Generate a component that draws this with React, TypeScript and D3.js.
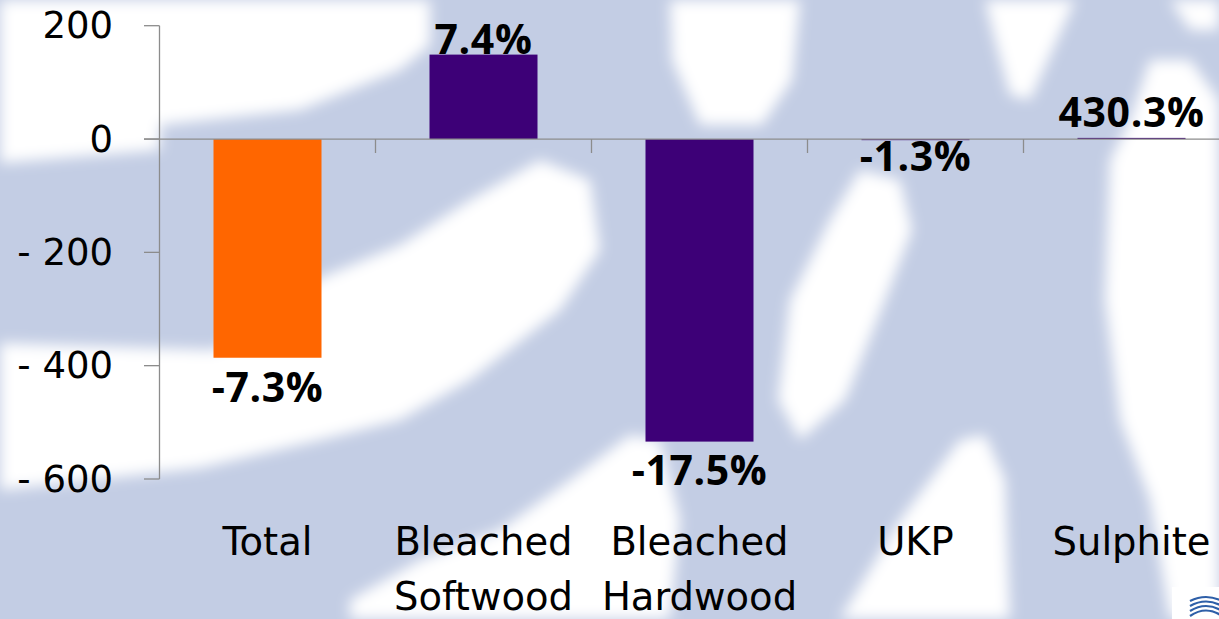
import React from "react";
import * as d3 from "d3";

const categoryKeys = ["Total", "Bleached Softwood", "Bleached Hardwood", "UKP", "Sulphite"];
const categoryLines = [["Total"], ["Bleached", "Softwood"], ["Bleached", "Hardwood"], ["UKP"], ["Sulphite"]];
const values = [-386, 149, -534, -2, 2];
const pctLabels = ["-7.3%", "7.4%", "-17.5%", "-1.3%", "430.3%"];
const barColors = ["#FF6600", "#3D0077", "#3D0077", "#3D0077", "#3D0077"];
const yTicks = [200, 0, -200, -400, -600];
// label baseline nudge relative to bar end (px), as placed in the source slide
const labelNudge = [44, -1, 43, 31, -11];

const W = 1219;
const H = 619;

// decorative background (blurred white shapes over light blue)
const bgWhite: [number, number][][] = [
  [[0, 0], [430, 0], [430, 45], [400, 70], [300, 110], [160, 125], [160, 150], [0, 163]],
  [[0, 343], [215, 350], [320, 278], [400, 245], [470, 200], [540, 160], [590, 180], [600, 250], [560, 310], [470, 380], [400, 420], [320, 440], [200, 468], [0, 490]],
  [[350, 600], [420, 560], [500, 530], [570, 480], [630, 435], [660, 440], [680, 520], [670, 619], [350, 619]],
  [[670, 0], [800, 0], [792, 80], [762, 125], [700, 125], [672, 60]],
  [[860, 170], [900, 180], [912, 230], [885, 300], [845, 400], [800, 440], [778, 400], [790, 300], [830, 220]],
  [[985, 0], [1075, 0], [1048, 60], [1030, 100], [1010, 95], [995, 40]],
  [[1150, 60], [1190, 60], [1219, 100], [1219, 619], [1170, 619], [1150, 500], [1120, 420], [1105, 300], [1110, 160], [1130, 120]],
  [[840, 619], [1010, 619], [1005, 480], [985, 435], [960, 440], [900, 520]],
  [[1170, 0], [1219, 0], [1219, 30], [1190, 30]],
];

export default function App() {
  const x = d3
    .scaleBand<string>()
    .domain(categoryKeys)
    .range([159.5, 1239.5])
    .paddingInner(0.5)
    .paddingOuter(0.25);
  const y = d3.scaleLinear().domain([-600, 200]).range([479, 25.7]);
  const y0 = y(0);
  const line = d3.line();
  const fmt = (v: number) => (v < 0 ? "- " + Math.abs(v) : String(v));
  const axisColor = "#8c8c8c";
  const step = x.step();
  const catTicks = categoryKeys.map((_, i) => 159.5 + step * (i + 1));

  return (
    <div style={{ position: "absolute", left: 0, top: 0, width: W, height: H, overflow: "hidden" }}>
      <svg width={W} height={H} style={{ display: "block" }}>
        <defs>
          <filter id="soft" x="-10%" y="-10%" width="120%" height="120%">
            <feGaussianBlur stdDeviation="7" />
          </filter>
        </defs>
        <rect x={0} y={0} width={W} height={H} fill="#C3CDE4" />
        <g filter="url(#soft)">
          {bgWhite.map((p, i) => (
            <path key={i} d={line(p) + "Z"} fill="#FFFFFF" />
          ))}
        </g>
        {/* logo */}
        <g transform="translate(1172,587)">
          <rect x={0} y={0} width={47} height={32} fill="#ffffff" />
          {[0, 1, 2, 3].map((k) => (
            <path
              key={k}
              d={`M ${18} ${14 + k * 5} Q ${34} ${6 + k * 4} ${50} ${14 + k * 5}`}
              fill="none"
              stroke="#2E5FA8"
              strokeWidth={2.2}
            />
          ))}
        </g>

        {/* y axis */}
        <line x1={159.5} x2={159.5} y1={y(200)} y2={y(-600)} stroke={axisColor} strokeWidth={1.3} />
        {yTicks.map((t) => (
          <g key={t}>
            <line x1={144} x2={159.5} y1={y(t)} y2={y(t)} stroke={axisColor} strokeWidth={1.3} />
            <text
              x={113}
              y={y(t)}
              textAnchor="end"
              dominantBaseline="central"
              fontFamily="DejaVu Sans, Verdana, sans-serif"
              fontSize={37}
              fill="#000"
            >
              {fmt(t)}
            </text>
          </g>
        ))}

        {/* bars */}
        {categoryKeys.map((c, i) => {
          const v = values[i];
          const x0 = x(c) as number;
          const top = y(Math.max(0, v));
          const bot = y(Math.min(0, v));
          return (
            <rect key={c} x={x0} y={top} width={x.bandwidth()} height={Math.max(1, bot - top)} fill={barColors[i]} />
          );
        })}

        {/* zero line and category ticks */}
        <line x1={144} x2={W} y1={y0} y2={y0} stroke={axisColor} strokeWidth={1.3} />
        {catTicks.map((cx, i) => (
          <line key={i} x1={cx} x2={cx} y1={y0} y2={y0 + 14} stroke={axisColor} strokeWidth={1.3} />
        ))}

        {/* data labels */}
        {categoryKeys.map((c, i) => {
          const v = values[i];
          const cx = (x(c) as number) + x.bandwidth() / 2;
          const ly = y(v) + labelNudge[i];
          return (
            <text
              key={c}
              x={cx}
              y={ly}
              textAnchor="middle"
              fontFamily="'Open Sans', 'Noto Sans', sans-serif"
              fontWeight="bold"
              fontSize={41}
              letterSpacing={0.6}
              fill="#000"
            >
              {pctLabels[i]}
            </text>
          );
        })}

        {/* category labels */}
        {categoryKeys.map((c, i) => {
          const cx = (x(c) as number) + x.bandwidth() / 2;
          return (
            <text
              key={c}
              x={cx}
              textAnchor="middle"
              fontFamily="DejaVu Sans, Verdana, sans-serif"
              fontSize={38.5}
              fill="#000"
            >
              {categoryLines[i].map((ln, k) => (
                <tspan key={k} x={cx} y={555 + k * 55}>
                  {ln}
                </tspan>
              ))}
            </text>
          );
        })}
      </svg>
    </div>
  );
}
